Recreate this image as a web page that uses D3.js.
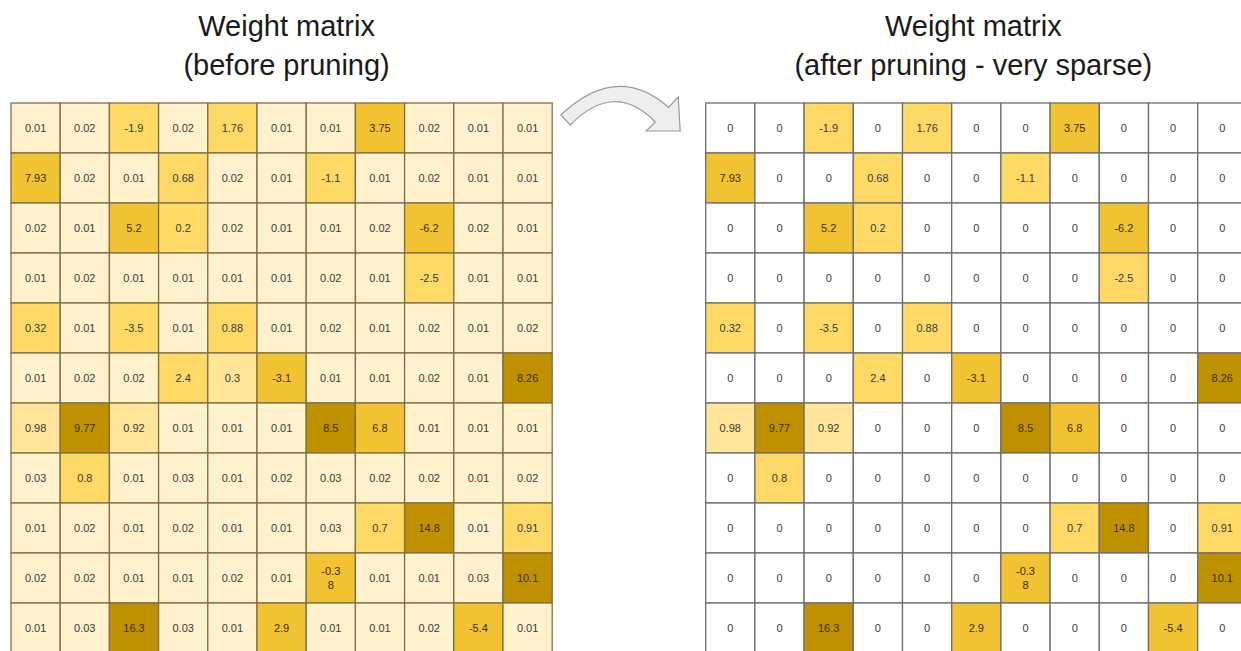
<!DOCTYPE html>
<html>
<head>
<meta charset="utf-8">
<script src="https://cdn.jsdelivr.net/npm/d3@7"></script>
<style>
  html, body { margin: 0; padding: 0; background: #ffffff; }
  svg { display: block; }
</style>
</head>
<body>
<svg id="chart" width="1241" height="651"></svg>
<script>
// ---------- data ----------
const rowIds = d3.range(11);
const colIds = d3.range(11);

const titleBefore = ["Weight matrix", "(before pruning)"];
const titleAfter = ["Weight matrix", "(after pruning - very sparse)"];

// weights before pruning (as printed)
const weightsBefore = [
  ["0.01","0.02","-1.9","0.02","1.76","0.01","0.01","3.75","0.02","0.01","0.01"],
  ["7.93","0.02","0.01","0.68","0.02","0.01","-1.1","0.01","0.02","0.01","0.01"],
  ["0.02","0.01","5.2","0.2","0.02","0.01","0.01","0.02","-6.2","0.02","0.01"],
  ["0.01","0.02","0.01","0.01","0.01","0.01","0.02","0.01","-2.5","0.01","0.01"],
  ["0.32","0.01","-3.5","0.01","0.88","0.01","0.02","0.01","0.02","0.01","0.02"],
  ["0.01","0.02","0.02","2.4","0.3","-3.1","0.01","0.01","0.02","0.01","8.26"],
  ["0.98","9.77","0.92","0.01","0.01","0.01","8.5","6.8","0.01","0.01","0.01"],
  ["0.03","0.8","0.01","0.03","0.01","0.02","0.03","0.02","0.02","0.01","0.02"],
  ["0.01","0.02","0.01","0.02","0.01","0.01","0.03","0.7","14.8","0.01","0.91"],
  ["0.02","0.02","0.01","0.01","0.02","0.01","-0.38","0.01","0.01","0.03","10.1"],
  ["0.01","0.03","16.3","0.03","0.01","2.9","0.01","0.01","0.02","-5.4","0.01"]
];

// weights after pruning (as printed)
const weightsAfter = [
  ["0","0","-1.9","0","1.76","0","0","3.75","0","0","0"],
  ["7.93","0","0","0.68","0","0","-1.1","0","0","0","0"],
  ["0","0","5.2","0.2","0","0","0","0","-6.2","0","0"],
  ["0","0","0","0","0","0","0","0","-2.5","0","0"],
  ["0.32","0","-3.5","0","0.88","0","0","0","0","0","0"],
  ["0","0","0","2.4","0","-3.1","0","0","0","0","8.26"],
  ["0.98","9.77","0.92","0","0","0","8.5","6.8","0","0","0"],
  ["0","0.8","0","0","0","0","0","0","0","0","0"],
  ["0","0","0","0","0","0","0","0.7","14.8","0","0.91"],
  ["0","0","0","0","0","0","-0.38","0","0","0","10.1"],
  ["0","0","16.3","0","0","2.9","0","0","0","-5.4","0"]
];

// magnitude class of each cell as shaded in the picture (0 = tiny ... 4 = largest)
const magnitudeClass = [
  [0,0,2,0,2,0,0,3,0,0,0],
  [3,0,0,2,0,0,2,0,0,0,0],
  [0,0,3,2,0,0,0,0,3,0,0],
  [0,0,0,0,0,0,0,0,2,0,0],
  [2,0,2,0,2,0,0,0,0,0,0],
  [0,0,0,2,1,3,0,0,0,0,4],
  [1,4,1,0,0,0,4,3,0,0,0],
  [0,2,0,0,0,0,0,0,0,0,0],
  [0,0,0,0,0,0,0,2,4,0,2],
  [0,0,0,0,0,0,3,0,0,0,4],
  [0,0,4,0,0,3,0,0,0,3,0]
];
const classLevels = [0, 1, 2, 3, 4];

// ---------- drawing ----------
const svg = d3.select("#chart");
const font = "Liberation Sans, Arial, Helvetica, sans-serif";

const shade = d3.scaleOrdinal()
  .domain(classLevels)
  .range(["#fff2cc", "#ffe599", "#ffd966", "#f1c232", "#bf9000"]);

const cellH = 50;
const cellW = 49.2;
const gridTop = 103;

function drawMatrix(x0, values, pruned, gridColor, title) {
  const x = d3.scaleBand().domain(colIds).range([x0, x0 + cellW * colIds.length]);
  const y = d3.scaleBand().domain(rowIds).range([gridTop, gridTop + cellH * rowIds.length]);

  const cells = [];
  rowIds.forEach(r => colIds.forEach(c => {
    cells.push({ r, c, label: values[r][c], cls: magnitudeClass[r][c] });
  }));

  const g = svg.append("g");

  g.selectAll("rect.cell")
    .data(cells)
    .join("rect")
    .attr("class", "cell")
    .attr("x", d => x(d.c))
    .attr("y", d => y(d.r))
    .attr("width", x.bandwidth())
    .attr("height", y.bandwidth())
    .attr("fill", d => (pruned && +d.label === 0) ? "#ffffff" : shade(d.cls))
    .attr("stroke", gridColor)
    .attr("stroke-width", 1.3);

  const txt = g.selectAll("text.val")
    .data(cells)
    .join("text")
    .attr("class", "val")
    .attr("text-anchor", "middle")
    .attr("font-family", font)
    .attr("font-size", 11)
    .attr("fill", d => d.cls >= 3 ? "#3d3000" : "#3a3a3a");

  txt.each(function(d) {
    const t = d3.select(this);
    const cx = x(d.c) + x.bandwidth() / 2;
    const cy = y(d.r) + y.bandwidth() / 2;
    // the cell is too narrow for more than 4 characters: wrap the rest
    const lines = d.label.length > 4 ? [d.label.slice(0, 4), d.label.slice(4)] : [d.label];
    const lh = 14;
    lines.forEach((ln, i) => {
      t.append("tspan")
        .attr("x", cx)
        .attr("y", cy + (i - (lines.length - 1) / 2) * lh)
        .attr("dy", "0.36em")
        .text(ln);
    });
  });

  const tcx = x0 + cellW * colIds.length / 2 + (pruned ? -3 : 5);
  svg.append("text")
    .attr("x", tcx)
    .attr("y", 36)
    .attr("text-anchor", "middle")
    .attr("font-family", font)
    .attr("font-size", 29)
    .attr("fill", "#1a1a1a")
    .text(title[0]);
  svg.append("text")
    .attr("x", tcx)
    .attr("y", 75)
    .attr("text-anchor", "middle")
    .attr("font-family", font)
    .attr("font-size", 29)
    .attr("fill", "#1a1a1a")
    .text(title[1]);

  return x;
}

const xL = drawMatrix(11, weightsBefore, false, "#7f6f45", titleBefore);
const xR = drawMatrix(705.7, weightsAfter, true, "#6e6e6e", titleAfter);

// curved arrow between the two matrices
const ax0 = xL.range()[1];
const p = d3.path();
p.moveTo(ax0 + 8.7, 115);
p.quadraticCurveTo(ax0 + 65, 62, ax0 + 116.5, 107.5);
p.lineTo(ax0 + 126, 97);
p.lineTo(ax0 + 128, 131);
p.lineTo(ax0 + 94, 131);
p.lineTo(ax0 + 103, 122);
p.quadraticCurveTo(ax0 + 62, 80, ax0 + 18, 125);
p.closePath();
svg.append("path")
  .attr("d", p.toString())
  .attr("fill", "#eeeeee")
  .attr("stroke", "#999999")
  .attr("stroke-width", 1.2)
  .attr("stroke-linejoin", "miter");
</script>
</body>
</html>
